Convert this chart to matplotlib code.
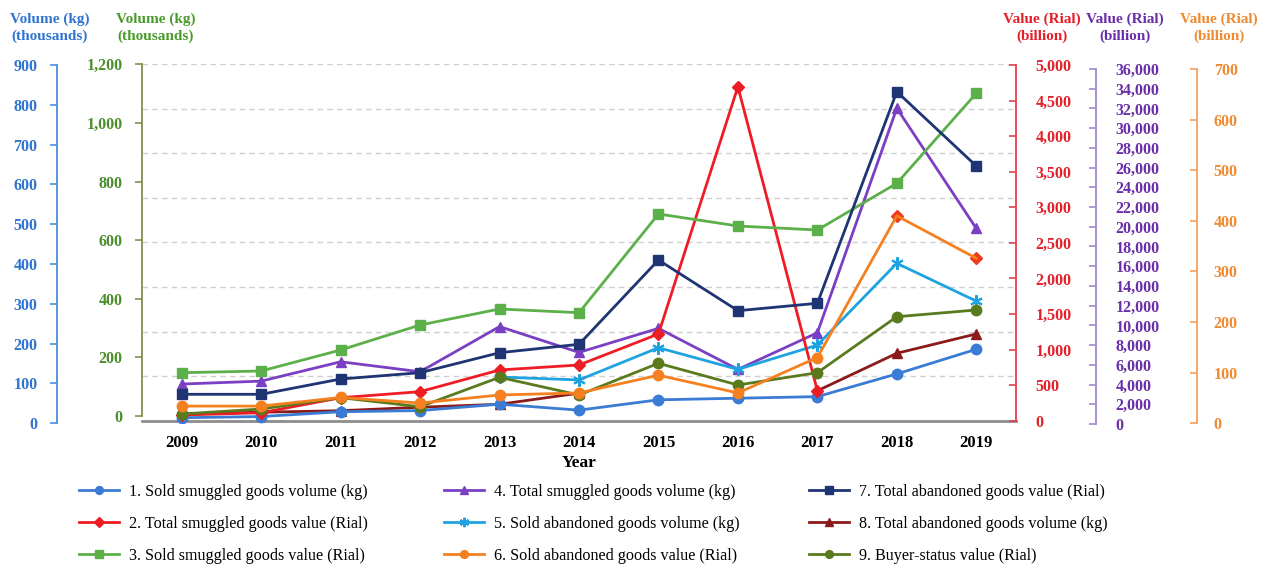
import numpy as np
import matplotlib.pyplot as plt

plt.rcParams['font.family'] = ['Liberation Serif', 'DejaVu Serif']

# data, one array per series (nan = not visible)
years = np.arange(2009, 2020)
nan = np.nan

# volumes (thousand kg)
sold_smuggled_vol = [14, 17, 29, 32, 48, 33, 59, 63, 67, 124, 186]          # blue axis
total_smuggled_vol = [109, 119, 185, 151, 305, 217, 299, 159, 284, 1050, 640]  # green axis
sold_abandoned_vol = [nan, nan, nan, nan, 133, 123, 233, 159, 242, 521, 392]   # green axis
total_abandoned_vol = [7, 13, 18, 30, 40, 78, nan, nan, 86, 214, 280]         # green axis

# values (billion Rial)
total_smuggled_val = [80, 112, 323, 408, 713, 783, 1219, 4695, 422, 2882, 2283]          # red axis
sold_smuggled_val = [5202, 5375, 7504, 10040, 11662, 11287, 21296, 20079, 19673, 24410, 33536]  # purple axis
total_abandoned_val = [3012, 3012, 4563, 5202, 7230, 8082, 16631, 11490, 12240, 33699, 26164]   # purple axis
buyer_status_val = [1014, 1521, 2667, 1754, 4736, 2941, 6156, 3955, 5202, 10881, 11561]        # purple axis
sold_abandoned_val = [34, 34, 51, 40, 56, 60, 95, 60, 130, 410, 326]                          # orange axis

labels = ["1. Sold smuggled goods volume (kg)",
          "2. Total smuggled goods value (Rial)",
          "3. Sold smuggled goods value (Rial)",
          "4. Total smuggled goods volume (kg)",
          "5. Sold abandoned goods volume (kg)",
          "6. Sold abandoned goods value (Rial)",
          "7. Total abandoned goods value (Rial)",
          "8. Total abandoned goods volume (kg)",
          "9. Buyer-status value (Rial)"]

W, H = 1265, 565
fig = plt.figure(figsize=(W / 100, H / 100), dpi=100)
x0, x1 = 142, 1016


def make_ax(top, bottom):
    ax = fig.add_axes([x0 / W, 1 - bottom / H, (x1 - x0) / W, (bottom - top) / H])
    ax.set_xlim(2008.5, 2019.5)
    ax.patch.set_visible(False)
    for s in ax.spines.values():
        s.set_visible(False)
    ax.set_xticks([])
    ax.set_yticks([])
    return ax


def style_y(ax, side, pos, color, spine_color, top, step, pad):
    # spine first: moving it resets the ticks
    sp = ax.spines[side]
    sp.set_visible(True)
    sp.set_position(('axes', pos))
    sp.set_color(spine_color)
    sp.set_linewidth(1.3)
    ticks = np.arange(0, top + step, step)
    ax.set_ylim(0, top)
    ax.yaxis.set_ticks_position(side)
    ax.tick_params(axis='y', color=spine_color, labelcolor=color,
                   direction='out' if side == 'left' else 'in',
                   length=5, width=1.2, pad=pad, labelsize=11.5)
    ax.set_yticks(ticks, [f"{int(t):,}" for t in ticks], fontweight='bold')


# main plot area: grid + year axis
main = make_ax(64, 420.7)
main.set_ylim(0, 8)
for g in range(1, 9):
    main.axhline(g, color='#cfcfcf', lw=1, ls=(0, (4, 3)), zorder=0)
main.spines['bottom'].set_visible(True)
main.spines['bottom'].set_color('#8c8c8c')
main.spines['bottom'].set_linewidth(2)
main.tick_params(axis='x', length=0, pad=10)
main.set_xticks(years, [str(y) for y in years], fontweight='bold', fontsize=12)
main.set_xlabel("Year", fontweight='bold', fontsize=12.5, labelpad=3)

ax_green = make_ax(64.3, 416)
style_y(ax_green, 'left', 0.0, '#4a8f2a', '#7d9150', 1200, 200, 9)

ax_blue = make_ax(65, 423.3)
style_y(ax_blue, 'left', (57 - x0) / (x1 - x0), '#2f74d0', '#4a8ee0', 900, 100, 9)

ax_red = make_ax(65, 420.7)
style_y(ax_red, 'right', 1.0, '#e3202a', '#e8404a', 5000, 500, 14)

ax_purple = make_ax(69, 424)
style_y(ax_purple, 'right', (1096 - x0) / (x1 - x0), '#6a2fa8', '#a088d0', 36000, 2000, 14)

ax_orange = make_ax(69, 423.3)
style_y(ax_orange, 'right', (1197 - x0) / (x1 - x0), '#f08a30', '#f5a060', 700, 100, 12)

lw, ms = 2, 7.5
h = [None] * 9
h[2], = ax_purple.plot(years, sold_smuggled_val, color='#5cb04a', marker='s', lw=lw, ms=ms)
h[6], = ax_purple.plot(years, total_abandoned_val, color='#1f3473', marker='s', lw=lw, ms=ms)
h[3], = ax_green.plot(years, total_smuggled_vol, color='#7b3fc4', marker='^', lw=lw, ms=ms)
h[4], = ax_green.plot(years, sold_abandoned_vol, color='#1fa3e0', marker=(6, 2, 0), lw=lw, ms=9, mew=1.5)
h[8], = ax_purple.plot(years, buyer_status_val, color='#5a7a1e', marker='o', lw=lw, ms=ms)
h[5], = ax_orange.plot(years, sold_abandoned_val, color='#f5801f', marker='o', lw=lw, ms=ms,
                       markevery=list(range(9)))
h[7], = ax_green.plot(years, total_abandoned_vol, color='#8b1a1a', marker='^', lw=lw, ms=ms)
h[1], = ax_red.plot(years[:9], total_smuggled_val[:9], color='#ee1c25', marker='D', lw=lw, ms=6.5)
ax_red.plot(years[9:], total_smuggled_val[9:], color='#f03a1e', marker='D', ls='none', ms=6.5)
h[0], = ax_blue.plot(years, sold_smuggled_vol, color='#3a7bd5', marker='o', lw=lw, ms=ms)

# axis titles
titles = [(50, "Volume (kg)\n(thousands)", '#2f74d0'),
          (156, "Volume (kg)\n(thousands)", '#4a9a2a'),
          (1042, "Value (Rial)\n(billion)", '#e3202a'),
          (1125, "Value (Rial)\n(billion)", '#6a2fa8'),
          (1219, "Value (Rial)\n(billion)", '#f08a30')]
for x, t, c in titles:
    fig.text(x / W, 1 - 28 / H, t, color=c, fontsize=11, fontweight='bold',
             ha='center', va='center', linespacing=1.3)

# legend: three columns placed separately
cols = [(71, [0, 1, 2]), (436, [3, 4, 5]), (801, [6, 7, 8])]
for x, idx in cols:
    fig.legend([h[i] for i in idx], [labels[i] for i in idx],
               loc='upper left', bbox_to_anchor=(x / W, 1 - 476 / H),
               frameon=False, fontsize=11.6, handlelength=2.5,
               handletextpad=0.6, labelspacing=0.98, borderpad=0,
               markerscale=0.75)

fig.savefig("out.png", dpi=100)
